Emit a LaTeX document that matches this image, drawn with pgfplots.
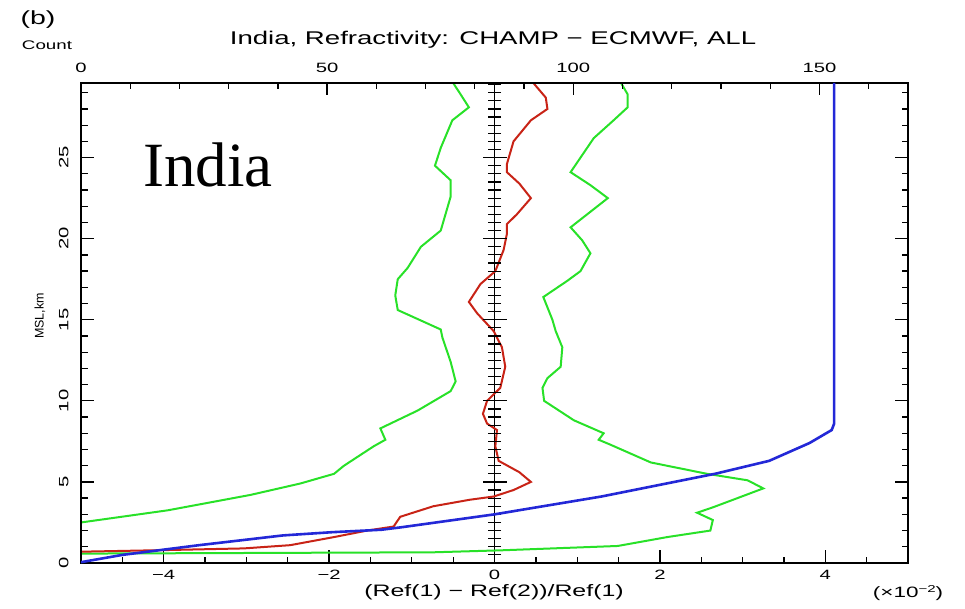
\documentclass[border=0pt]{standalone}
\usepackage{fontspec}
\setmainfont[FakeStretch=1.5]{Liberation Sans}
\newfontfamily\plainsans{Liberation Sans}
\newfontfamily\timesfont{Liberation Serif}
\usepackage{pgfplots}
\pgfplotsset{compat=1.18}
\definecolor{cgreen}{RGB}{40,225,40}
\definecolor{cred}{RGB}{200,35,22}
\definecolor{cblue}{RGB}{35,40,215}
\begin{document}
\begin{tikzpicture}[x=1pt,y=1pt]
\useasboundingbox (0,0) rectangle (965,608);
\begin{axis}[
  at={(81pt,45pt)}, anchor=south west, scale only axis,
  width=827pt, height=480pt,
  xmin=-5, xmax=5, ymin=0, ymax=29.6,
  xtick={-4,-2,0,2,4}, xticklabels={−4,−2,0,2,4},
  minor xtick={-4.5,-3.5,-3,-2.5,-1.5,-1,-0.5,0.5,1,1.5,2.5,3,3.5,4.5},
  ytick={0,5,10,15,20,25}, yticklabels={0,5,10,15,20,25},
  minor ytick={1,2,3,4,6,7,8,9,11,12,13,14,16,17,18,19,21,22,23,24,26,27,28,29},
  xtick pos=bottom, ytick pos=both, yticklabel pos=left,
  tick align=inside,
  major tick length=13pt, minor tick length=6.5pt,
  tick style={black, line width=1.3pt},
  axis line style={black, line width=1.8pt},
  tick label style={font=\fontsize{13.5}{15}\selectfont},
  xticklabel style={yshift=-4pt},
  yticklabel style={xshift=-9pt, rotate=90, anchor=south},
]
% zero line with ticks
\addplot[black, line width=1.4pt] coordinates {(0,0) (0,29.6)};
\addplot[black, only marks, mark=-, mark size=6.5pt, mark options={line width=1.2pt}] coordinates {
(0,0.5)(0,1)(0,1.5)(0,2)(0,2.5)(0,3)(0,3.5)(0,4)(0,4.5)
(0,5.5)(0,6)(0,6.5)(0,7)(0,7.5)(0,8)(0,8.5)(0,9)(0,9.5)
(0,10.5)(0,11)(0,11.5)(0,12)(0,12.5)(0,13)(0,13.5)(0,14)(0,14.5)
(0,15.5)(0,16)(0,16.5)(0,17)(0,17.5)(0,18)(0,18.5)(0,19)(0,19.5)
(0,20.5)(0,21)(0,21.5)(0,22)(0,22.5)(0,23)(0,23.5)(0,24)(0,24.5)
(0,25.5)(0,26)(0,26.5)(0,27)(0,27.5)(0,28)(0,28.5)(0,29)(0,29.5)};
\addplot[black, only marks, mark=-, mark size=12pt, mark options={line width=1.3pt}] coordinates {
(0,5)(0,10)(0,15)(0,20)(0,25)};
% mean - std (left green)
\addplot[cgreen, line width=2pt] coordinates {
(-5.00,2.50)(-3.95,3.25)(-2.95,4.20)(-2.35,4.90)(-1.94,5.50)(-1.82,6.00)
(-1.46,7.20)(-1.32,7.60)(-1.38,8.30)(-0.93,9.40)(-0.53,10.60)(-0.47,11.20)
(-0.53,12.40)(-0.63,13.90)(-0.65,14.40)(-1.17,15.60)(-1.20,16.50)(-1.17,17.50)
(-1.05,18.20)(-0.89,19.50)(-0.65,20.50)(-0.57,21.90)(-0.53,22.60)(-0.53,23.60)
(-0.72,24.50)(-0.65,25.60)(-0.51,27.30)(-0.31,28.10)(-0.41,28.90)(-0.50,29.60)};
% mean + std (right green)
\addplot[cgreen, line width=2pt] coordinates {
(-6.00,0.55)(-5.00,0.58)(-0.74,0.66)(0.07,0.78)(1.49,1.05)(2.09,1.60)(2.61,2.00)
(2.64,2.65)(2.45,3.10)(2.65,3.45)(3.25,4.60)(3.06,5.10)(2.57,5.50)(1.89,6.20)
(1.40,7.30)(1.26,7.60)(1.32,8.00)(0.96,8.80)(0.60,10.00)(0.58,10.80)(0.64,11.40)
(0.80,12.10)(0.82,13.30)(0.74,14.30)(0.70,15.00)(0.59,16.40)(0.88,17.40)
(1.04,18.00)(1.16,19.10)(1.06,19.90)(0.92,20.70)(1.12,21.50)(1.37,22.50)
(1.16,23.30)(0.92,24.10)(1.04,25.00)(1.20,26.20)(1.44,27.30)(1.61,28.10)
(1.61,28.90)(1.53,29.60)};
% mean (red)
\addplot[cred, line width=2pt] coordinates {
(-6.00,0.62)(-4.97,0.70)(-3.95,0.80)(-3.03,0.90)(-2.47,1.10)(-1.94,1.60)
(-1.54,2.00)(-1.22,2.25)(-1.14,2.85)(-0.74,3.50)(-0.30,3.90)(-0.01,4.10)
(0.23,4.50)(0.44,5.00)(0.30,5.60)(0.05,6.30)(0.01,7.20)(0.03,8.20)(-0.09,8.60)
(-0.14,9.20)(-0.09,10.00)(0.07,10.80)(0.13,12.10)(0.09,13.30)(-0.01,14.30)
(-0.21,15.40)(-0.31,16.10)(-0.17,17.20)(0.01,18.00)(0.11,19.30)(0.15,20.30)
(0.15,20.90)(0.27,21.50)(0.44,22.50)(0.30,23.40)(0.15,24.10)(0.15,24.60)
(0.23,26.00)(0.44,27.30)(0.64,28.00)(0.62,28.70)(0.47,29.60)};
\end{axis}
\begin{axis}[
  at={(81pt,45pt)}, anchor=south west, scale only axis,
  width=827pt, height=480pt,
  xmin=0, xmax=168, ymin=0, ymax=29.6,
  xtick={0,50,100,150}, xticklabels={0,50,100,150},
  minor xtick={10,20,30,40,60,70,80,90,110,120,130,140,160},
  ytick=\empty,
  xtick pos=top, xticklabel pos=top,
  tick align=inside,
  major tick length=12pt, minor tick length=6pt,
  tick style={black, line width=1.3pt},
  axis line style={black, line width=1.8pt},
  tick label style={font=\fontsize{13.5}{15}\selectfont},
  xticklabel style={yshift=7pt},
]
% count (blue)
\addplot[cblue, line width=2.6pt] coordinates {
(0,0.05)(8.4,0.50)(24,1.10)(41,1.70)(51,1.90)(61,2.05)(65,2.20)(84,3.00)
(105.7,4.10)(128.8,5.50)(139.8,6.30)(148,7.40)(152.5,8.20)(153,8.60)(153,29.6)};
\end{axis}
\node[font=\fontsize{19}{21}\selectfont] at (38,588) {(b)};
\node[font=\fontsize{12.5}{14}\selectfont] at (47,563) {Count};
\node[font=\fontsize{18.4}{21}\selectfont] at (493,568) {India, Refractivity: CHAMP − ECMWF, ALL};
\node[font=\plainsans\fontsize{12.5}{14}\selectfont, rotate=90] at (40,292) {MSL,km};
\node[font=\fontsize{16.6}{19}\selectfont] at (494,16) {(Ref(1) − Ref(2))/Ref(1)};
\node[font=\fontsize{15}{17}\selectfont] at (908,15) {(×10\raisebox{0.55ex}{\fontsize{10}{11}\selectfont −2})};
\node[font=\timesfont\fontsize{63}{70}\selectfont, anchor=base west, inner sep=0pt] at (143,421) {India};
\end{tikzpicture}
\end{document}
